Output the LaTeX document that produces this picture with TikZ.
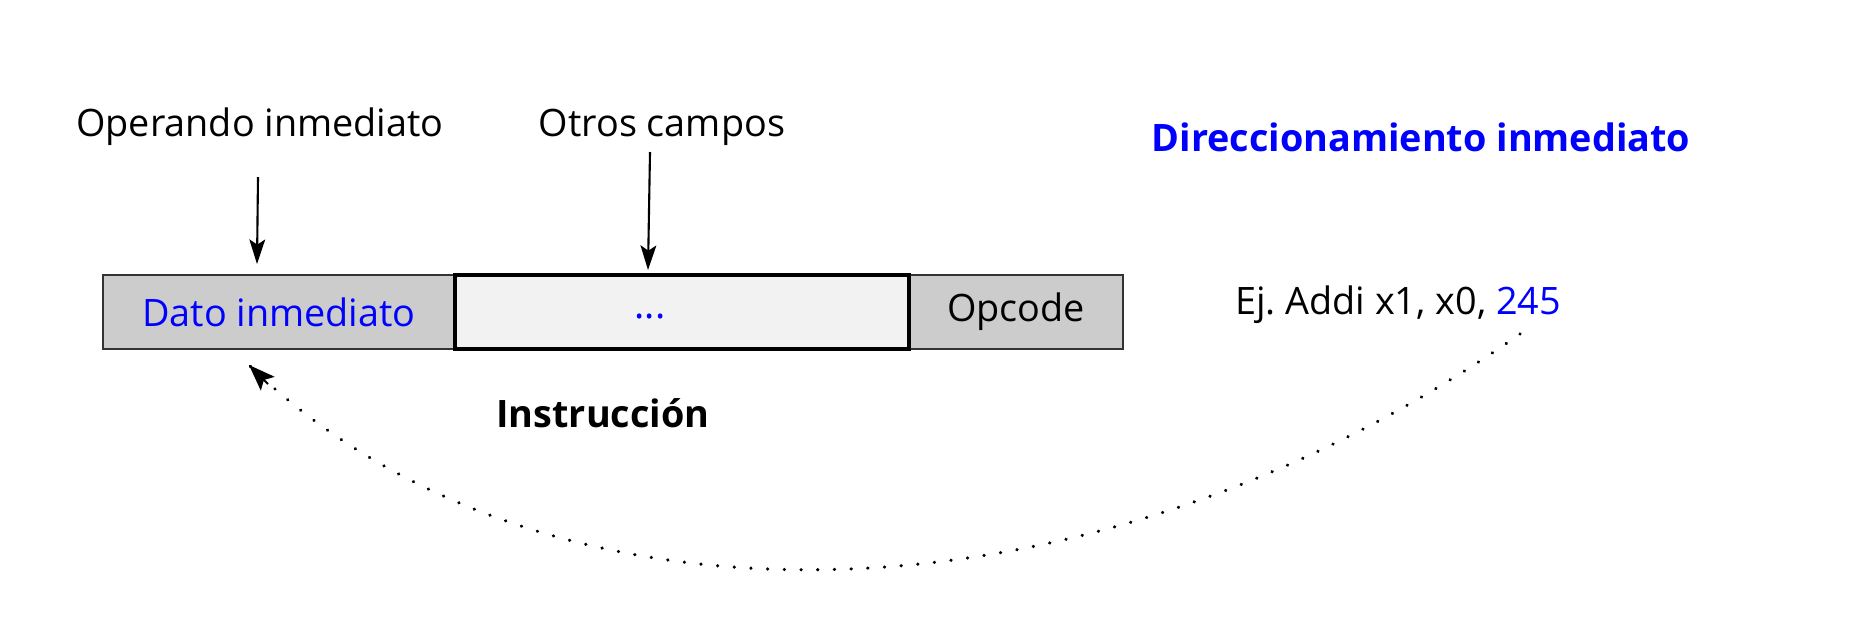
\documentclass[tikz,border=0pt]{standalone}
\usepackage{fontspec}
\setmainfont{Open Sans}
\usetikzlibrary{arrows.meta}
\definecolor{fieldgray}{HTML}{CCCCCC}
\definecolor{midgray}{HTML}{F2F2F2}
\definecolor{myblue}{HTML}{0000FF}
\begin{document}
\begin{tikzpicture}[x=0.02cm,y=-0.02cm,
  lbl/.style={font=\fontsize{21.5}{25}\selectfont, inner sep=0pt},
  field/.style={draw=black!80, line width=0.9pt, inner sep=0pt, outer sep=0pt, minimum height=1.48cm, font=\fontsize{21.5}{25}\selectfont},
  ptr/.style={line width=1.2pt, -{Stealth[length=14pt,width=9pt,inset=3pt]}},
  dotline/.style={line width=2pt, line cap=round, dash pattern=on 0.01pt off 9.5pt}
]
\useasboundingbox (0,0) rectangle (1851,643);
\node[field, fill=fieldgray, minimum width=7.04cm, text=myblue] (dato) at (279,312) {Dato inmediato};
\node[field, fill=fieldgray, minimum width=4.28cm] (opc) at (1016,312) {Opcode};
\node[field, fill=midgray, draw=black, line width=2pt, minimum width=9.08cm] (mid) at (682,312) {};
\node[font=\fontsize{22}{24}\selectfont, text=myblue, inner sep=0pt] (dots) at (650,316) {...};
\node[lbl] (oper) at (260,127) {Operando inmediato};
\node[lbl] (otros) at (662,127) {Otros campos};
\node[lbl, font=\fontsize{21.5}{25}\selectfont\bfseries, text=myblue] (title) at (1421,137) {Direccionamiento inmediato};
\node[lbl] (ej) at (1398,305) {Ej.\ Addi x1, x0, \textcolor{myblue}{245}};
\node[lbl, font=\fontsize{21.5}{25}\selectfont\bfseries] (instr) at (603,413) {Instrucción};
\coordinate (a1s) at (258,177);
\coordinate (a1e) at (257,264);
\coordinate (a2s) at (650,152);
\coordinate (a2e) at (648,270);
\draw[ptr] (a1s) -- (a1e);
\draw[ptr] (a2s) -- (a2e);
\coordinate (cs) at (1520,334);
\coordinate (ce) at (249,365);
\draw[dotline] (cs) .. controls (1079,643) and (534,643) .. (ce);
\draw[line width=1.2pt, -{Stealth[length=15pt,width=11pt,inset=3pt]}] (268,384) -- (ce);
\end{tikzpicture}
\end{document}
